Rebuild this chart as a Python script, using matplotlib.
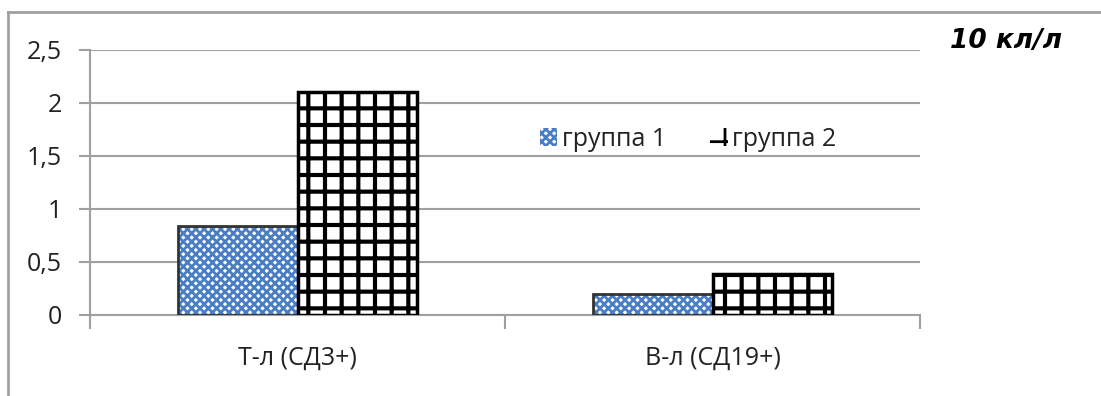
import numpy as np
import matplotlib
matplotlib.use("Agg")
import matplotlib.pyplot as plt
from matplotlib.patches import Patch
from matplotlib.lines import Line2D

categories = ["Т-л (СД3+)", "В-л (СД19+)"]
group1 = [0.84, 0.20]
group2 = [2.10, 0.39]
series_names = ["группа 1", "группа 2"]
yticks = [0, 0.5, 1, 1.5, 2, 2.5]
ytick_labels = ["0", "0,5", "1", "1,5", "2", "2,5"]
unit_label = "10 кл/л"

plt.rcParams["font.family"] = ["Open Sans", "DejaVu Sans"]
plt.rcParams["hatch.linewidth"] = 2.0

fig = plt.figure(figsize=(11.01, 3.96), dpi=100)
ax = fig.add_axes([90 / 1101, 1 - 315 / 396, 830 / 1101, 265 / 396])

x = np.arange(len(categories))
w = 0.287
b1 = ax.bar(x - w / 2, group1, w, color="white", edgecolor="#4a7ec4",
            hatch="xxxx", linewidth=0, zorder=3)
for r in b1:
    ax.add_patch(plt.Rectangle(r.get_xy(), r.get_width(), r.get_height(),
                               fill=False, edgecolor="#333333", lw=2, zorder=4))
b2 = ax.bar(x + w / 2, group2, w, color="white", edgecolor="black",
            hatch="+", linewidth=0, zorder=3)
for r in b2:
    if hasattr(r, "set_hatch_linewidth"):
        r.set_hatch_linewidth(3)
    ax.add_patch(plt.Rectangle(r.get_xy(), r.get_width(), r.get_height(),
                               fill=False, edgecolor="black", lw=2.5, zorder=4))

ax.set_xlim(-0.5, 1.5)
ax.set_ylim(0, 2.5)
ax.set_yticks(yticks)
ax.set_yticklabels(ytick_labels)
ax.set_xticks([-0.5, 0.5, 1.5], minor=False)
ax.set_xticklabels([])
ax.set_xticks(x, minor=True)
ax.set_xticklabels(categories, minor=True)
ax.tick_params(axis="x", which="minor", length=0, pad=22, labelsize=18, colors="#222222")
ax.tick_params(axis="x", which="major", length=10, width=1.5, color="#a0a0a0")
ax.tick_params(axis="y", length=8, width=1.5, color="#a0a0a0", labelsize=18,
               labelcolor="#222222", pad=12)
ax.grid(axis="y", color="#a0a0a0", lw=1.5, zorder=0)
for s in ["top", "right"]:
    ax.spines[s].set_visible(False)
for s in ["left", "bottom"]:
    ax.spines[s].set_color("#a0a0a0")
    ax.spines[s].set_linewidth(1.5)

handles = [Patch(facecolor="white", edgecolor="#4a7ec4", hatch="xxxx", lw=0),
           Patch(facecolor="white", edgecolor="black", hatch="+", lw=0)]
fig.legend(handles, series_names, ncol=2, frameon=False, fontsize=18,
           loc="center left", bbox_to_anchor=(517 / 1101, 1 - 139 / 396),
           handlelength=0.7, handleheight=0.7, handletextpad=0.2,
           columnspacing=1.75, labelcolor="#222222")

fig.text(1062 / 1101, 1 - 41 / 396, unit_label, ha="right", va="center",
         fontsize=19, fontweight="bold", fontstyle="italic",
         family="DejaVu Sans")

fig.add_artist(Line2D([8 / 1101, 1], [1 - 12 / 396, 1 - 12 / 396],
                      color="#a0a0a0", lw=2))
fig.add_artist(Line2D([8 / 1101, 8 / 1101], [0, 1 - 12 / 396],
                      color="#a0a0a0", lw=2))

fig.savefig("out.png", dpi=100)
